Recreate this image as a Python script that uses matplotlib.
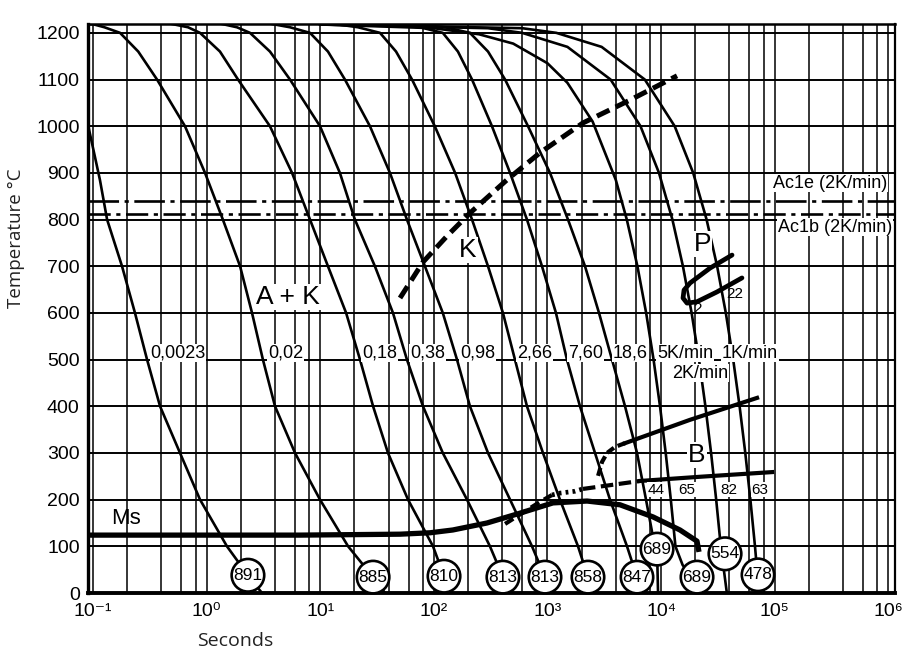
import matplotlib.pyplot as plt
from matplotlib.ticker import NullLocator

plt.rcParams['lines.scale_dashes'] = False
NARROW = ['Liberation Sans Narrow', 'Liberation Sans', 'DejaVu Sans']
SANS = ['Liberation Sans', 'DejaVu Sans']
LIGHT = ['Open Sans', 'DejaVu Sans']
plt.rcParams['font.family'] = SANS

# cooling curves, time in s / temperature in degC
c1_t = [0.06, 0.0903, 0.115, 0.133, 0.180, 0.234, 0.299, 0.389, 0.583, 0.875, 1.51, 2.31, 3.07]
c1_T = [1180, 1003, 885, 800, 700, 600, 500, 400, 300, 200, 100, 38, 0]
c2_t = [0.0903, 0.102, 0.126, 0.173, 0.250, 0.366, 0.645, 0.968, 1.39, 1.97, 2.51, 3.13, 4.00, 6.00, 9.96, 17.6, 29.2, 37.2]
c2_T = [1219, 1218, 1212, 1200, 1160, 1100, 1000, 900, 800, 700, 600, 500, 400, 300, 200, 100, 34, 0]
c3_t = [0.496, 0.686, 0.875, 1.31, 1.89, 3.61, 5.65, 8.13, 11.7, 16.9, 22.4, 29.2, 39.5, 59.3, 98.4, 123, 145]
c3_T = [1219, 1212, 1200, 1160, 1100, 1000, 900, 800, 700, 600, 500, 400, 300, 200, 100, 36, 0]
c4_t = [1.37, 1.85, 2.41, 3.61, 5.42, 9.96, 14.9, 20.2, 30.3, 43.7, 58.0, 80.3, 120, 196, 312, 406, 469]
c4_T = [1219, 1212, 1200, 1160, 1100, 1000, 900, 800, 700, 600, 500, 400, 300, 200, 100, 34, 0]
c5_t = [3.77, 5.42, 8.13, 11.7, 16.5, 27.4, 41.1, 58.0, 83.5, 120, 160, 208, 300, 469, 732, 952, 1097]
c5_T = [1219, 1212, 1200, 1160, 1100, 1000, 900, 800, 700, 600, 500, 400, 300, 200, 100, 34, 0]
c6_t = [13.5, 21.5, 33.6, 46.5, 64.3, 102, 154, 217, 300, 406, 518, 661, 914, 1290, 1860, 2276, 2624]
c6_T = [1219, 1212, 1200, 1160, 1100, 1000, 900, 800, 700, 600, 500, 400, 300, 200, 100, 34, 0]
c7_t = [37.2, 75.7, 120, 163, 217, 325, 469, 661, 896, 1189, 1486, 1935, 2624, 3556, 5021, 6150, 6950]
c7_T = [1219, 1212, 1200, 1160, 1100, 1000, 900, 800, 700, 600, 500, 400, 300, 200, 100, 34, 0]
c8_t = [61.7, 126, 208, 300, 424, 675, 1054, 1518, 2143, 2846, 3703, 4823, 6150, 7379, 8505, 9230, 9420]
c8_T = [1219, 1212, 1200, 1160, 1100, 1000, 900, 800, 700, 600, 500, 400, 300, 200, 120, 92, 0]
k5_t = [10, 100, 250, 500, 1000, 1500, 2500, 4000, 5000, 6200, 7400, 8600, 9800, 11000, 12200, 13400, 15500, 18500]
k5_T = [1218, 1210, 1197, 1177, 1135, 1093, 1010, 885, 800, 700, 600, 500, 400, 300, 200, 100, 60, 34]
k2_t = [10, 300, 600, 1500, 3600, 6600, 9600, 12600, 15600, 18600, 21600, 24600, 27600, 30600, 33600, 38000]
k2_T = [1218, 1210, 1200, 1170, 1100, 1000, 900, 800, 700, 600, 500, 400, 300, 200, 100, 0]
k1_t = [10, 600, 1200, 3000, 7200, 13200, 19200, 25200, 31200, 37200, 43200, 49200, 55200, 61200, 67200, 73000]
k1_T = [1218, 1210, 1200, 1170, 1100, 1000, 900, 800, 700, 600, 500, 400, 300, 200, 100, 0]
curves_t = [c1_t, c2_t, c3_t, c4_t, c5_t, c6_t, c7_t, c8_t, k5_t, k2_t, k1_t]
curves_T = [c1_T, c2_T, c3_T, c4_T, c5_T, c6_T, c7_T, c8_T, k5_T, k2_T, k1_T]

# curve labels (cooling parameter) and hardness values
curve_names = ['0,0023', '0,02', '0,18', '0,38', '0,98', '2,66', '7,60', '18,6', '5K/min', '1K/min']
name_t = [0.319, 3.47, 23.3, 61.7, 170, 540, 1518, 3780, 9230, 34400]
hv = ['891', '885', '810', '813', '813', '858', '847', '689', '689', '554', '478']
hv_t = [2.31, 29.2, 123, 406, 952, 2276, 6150, 9230, 20750, 36600, 71400]
hv_T = [38, 34, 36, 34, 34, 34, 34, 94, 34, 84, 39]

# transformation lines
k_t = [50.4, 80.3, 131, 208, 440, 859, 2055, 5330, 13840]
k_T = [632, 709, 765, 814, 885, 943, 1007, 1056, 1108]
ms_t = [0.0903, 0.875, 6.64, 50.4, 92.5, 147, 294, 573, 1119, 2234, 4355, 8505, 14690, 20750, 21600]
ms_T = [124, 124, 124, 126, 129, 135, 150, 171, 193, 197, 189, 163, 135, 111, 88]
bl_t = [424, 597, 859, 1097, 1290, 1750, 2055, 3556, 6530, 22000, 94900]
bl_T = [148, 171, 195, 210, 214, 218, 223, 231, 240, 249, 259]
bu_t = [2793, 3029, 3352, 3940, 4823, 18000, 70100]
bu_T = [251, 281, 300, 313, 321, 371, 418]
p_t = [42200, 27000, 18000, 15950, 15630, 16950, 20750, 31100, 51600]
p_T = [724, 696, 664, 649, 632, 621, 624, 645, 675]
ac1e, ac1b = 840, 812
b_pct = ['44', '65', '82', '63']
b_pct_t = [9060, 16950, 39700, 74500]

decades = [0.1, 1, 10, 100, 1e3, 1e4, 1e5, 1e6]
dec_labels = ['10⁻¹', '10⁰', '10¹', '10²', '10³', '10⁴', '10⁵', '10⁶']
minor_mult = [2, 4, 6, 8]
temps = list(range(0, 1300, 100))

fig = plt.figure(figsize=(9.06, 6.57), dpi=100)
ax = fig.add_axes([88/906, 1-593/657, 807/906, 569/657])
ax.set_xscale('log')
ax.set_xlim(0.0903, 1.148e6)
ax.set_ylim(0, 1219)

for d in decades:
    ax.axvline(d, color='k', lw=1.1, zorder=1)
    if d < 1e6:
        for m in minor_mult:
            ax.axvline(m*d, color='k', lw=1.1, zorder=1)
for T in temps[1:]:
    ax.axhline(T, color='k', lw=1.4, zorder=1)

ax.set_xticks(decades)
ax.set_xticklabels(dec_labels)
ax.xaxis.set_minor_locator(NullLocator())
ax.set_yticks(temps)
ax.tick_params(length=0, labelsize=14)
ax.tick_params(axis='y', pad=6)
ax.tick_params(axis='x', pad=7)
for lbl in ax.get_yticklabels() + ax.get_xticklabels():
    lbl.set_family(NARROW)
for s, w in zip(['left', 'bottom', 'top', 'right'], [2.4, 2.8, 1.8, 1.6]):
    ax.spines[s].set_linewidth(w)

for t, T in zip(curves_t, curves_T):
    ax.plot(t, T, color='k', lw=1.9, zorder=3)

ax.axhline(ac1e, color='k', lw=1.9, ls=(0, (22, 4, 3, 4)), zorder=2)
ax.axhline(ac1b, color='k', lw=1.9, ls=(0, (16, 4, 3, 4)), zorder=2)
ax.plot(k_t, k_T, color='k', lw=3.6, ls=(0, (10, 5)), zorder=4)
ax.plot(ms_t, ms_T, color='k', lw=3.8, zorder=4, solid_capstyle='butt')
ax.plot(bl_t[:4], bl_T[:4], color='k', lw=3.0, ls=(0, (7, 4)), zorder=4)
ax.plot(bl_t[3:7], bl_T[3:7], color='k', lw=3.4, ls=(0, (2, 3)), zorder=4)
ax.plot(bl_t[6:9], bl_T[6:9], color='k', lw=3.0, ls=(0, (9, 4)), zorder=4)
ax.plot(bl_t[8:], bl_T[8:], color='k', lw=3.0, zorder=4)
ax.plot(bu_t[:5], bu_T[:5], color='k', lw=3.0, ls=(0, (6, 3)), zorder=4)
ax.plot(bu_t[4:], bu_T[4:], color='k', lw=3.0, zorder=4)
ax.plot(p_t, p_T, color='k', lw=3.4, zorder=4, solid_capstyle='round')

wb = dict(fc='white', ec='none', pad=0.5)
for name, t in zip(curve_names, name_t):
    ax.text(t, 514, name, family=NARROW, fontsize=13, ha='left', va='center',
            bbox=wb, zorder=5)
ax.text(12500, 471, '2K/min', family=NARROW, fontsize=13, ha='left', va='center',
        bbox=wb, zorder=5)
for name, t in zip(b_pct, b_pct_t):
    ax.text(t, 221, name, family=NARROW, fontsize=11, ha='center', va='center',
            bbox=dict(fc='white', ec='none', pad=0.3), zorder=5)
ax.text(20750, 609, '2', family=NARROW, fontsize=11, ha='center', va='center', zorder=5)
ax.text(44900, 641, '22', family=NARROW, fontsize=11, ha='center', va='center', zorder=5)

for name, t, T in zip(hv, hv_t, hv_T):
    ax.text(t, T, name, family=NARROW, fontsize=12.5, ha='center', va='center', zorder=6,
            bbox=dict(boxstyle='circle,pad=0.1', fc='white', ec='k', lw=1.9))

ax.text(3.08e5, 878, 'Ac1e (2K/min)', fontsize=13, ha='center', va='center', bbox=wb, zorder=5)
ax.text(3.41e5, 784, 'Ac1b (2K/min)', fontsize=13, ha='center', va='center', bbox=wb, zorder=5)
ax.text(5.24, 634, 'A + K', fontsize=19, ha='center', va='center', bbox=wb, zorder=5)
ax.text(200, 735, 'K', fontsize=19, ha='center', va='center', bbox=wb, zorder=5)
ax.text(23400, 748, 'P', fontsize=19, ha='center', va='center', bbox=wb, zorder=5)
ax.text(20750, 296, 'B', fontsize=19, ha='center', va='center', bbox=wb, zorder=5)
ax.text(0.195, 159, 'Ms', fontsize=16, ha='center', va='center', zorder=5)

fig.text(16/906, 1-238/657, 'Temperature °C', rotation=90, ha='center', va='center',
         family=LIGHT, fontsize=13.5, color='#222222')
fig.text(235/906, 1-641/657, 'Seconds', ha='center', va='center',
         family=LIGHT, fontsize=14, color='#222222')

fig.savefig('out.png', dpi=100)
